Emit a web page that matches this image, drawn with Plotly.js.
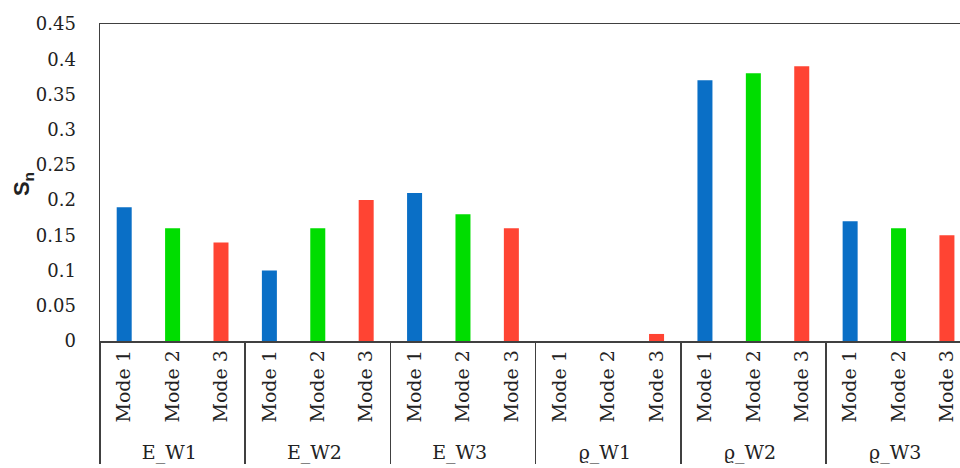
<!DOCTYPE html>
<html>
<head>
<meta charset="utf-8">
<script src="https://cdn.plot.ly/plotly-3.0.1.min.js"></script>
<style>
html,body{margin:0;padding:0;overflow:hidden;background:#fff;}
.xaxislayer-above text, .yaxislayer-above text { font-family: 'DejaVu Serif' !important; }
</style>
</head>
<body>
<div id="chart" style="width:960px;height:468px;"></div>
<script>
const groups = ["E_W1", "E_W2", "E_W3", "ϱ_W1", "ϱ_W2", "ϱ_W3"];
const modes = ["Mode 1", "Mode 2", "Mode 3"];
const mode1Values = [0.19, 0.10, 0.21, 0.00, 0.37, 0.17];
const mode2Values = [0.16, 0.16, 0.18, 0.00, 0.38, 0.16];
const mode3Values = [0.14, 0.20, 0.16, 0.01, 0.39, 0.15];
const modeColors = ["#0A6FC6", "#00DD00", "#FF4433"];
const yTickVals = [0, 0.05, 0.1, 0.15, 0.2, 0.25, 0.3, 0.35, 0.4, 0.45];
const yTickText = ["0", "0.05", "0.1", "0.15", "0.2", "0.25", "0.3", "0.35", "0.4", "0.45"];
const yTitle = "<b>S<sub>n</sub></b>";

const seriesByMode = [mode1Values, mode2Values, mode3Values];
const outer = [], inner = [], vals = [], cols = [];
groups.forEach((g, gi) => {
  modes.forEach((m, mi) => {
    outer.push(g);
    inner.push(m);
    vals.push(seriesByMode[mi][gi]);
    cols.push(modeColors[mi]);
  });
});

const serif = "DejaVu Serif";
const trace = {
  type: "bar",
  x: [outer, inner],
  y: vals,
  marker: {color: cols, line: {width: 0}},
  width: 0.31,
  hoverinfo: "skip"
};

const layout = {
  width: 960,
  height: 468,
  margin: {l: 100, r: 0, t: 24, b: 127},
  paper_bgcolor: "#fff",
  plot_bgcolor: "#fff",
  showlegend: false,
  font: {family: serif, size: 18, color: "#222"},
  xaxis: {
    type: "multicategory",
    range: [-0.5, 17.27],
    showline: true,
    linecolor: "#404040",
    linewidth: 1.5,
    mirror: true,
    showgrid: false,
    zeroline: false,
    ticks: "outside",
    ticklen: 10,
    tickcolor: "rgba(0,0,0,0)",
    tickangle: -90,
    showdividers: true,
    dividercolor: "#404040",
    dividerwidth: 1.5,
    tickfont: {family: serif, size: 19, color: "#222"}
  },
  yaxis: {
    range: [0, 0.45],
    showline: true,
    linecolor: "#404040",
    linewidth: 1.5,
    showgrid: false,
    zeroline: false,
    ticks: "",
    tickvals: yTickVals,
    ticktext: yTickText,
    ticklabelstandoff: 19,
    tickfont: {family: serif, size: 18, color: "#222"}
  },
  annotations: [{
    text: yTitle,
    xref: "paper", yref: "paper",
    x: 0, y: 0.495,
    xanchor: "center", yanchor: "middle",
    xshift: -77,
    textangle: -90,
    showarrow: false,
    font: {family: "Liberation Sans", size: 22, color: "#222"}
  }]
};

Plotly.newPlot("chart", [trace], layout, {displayModeBar: false, staticPlot: true});
</script>
</body>
</html>
